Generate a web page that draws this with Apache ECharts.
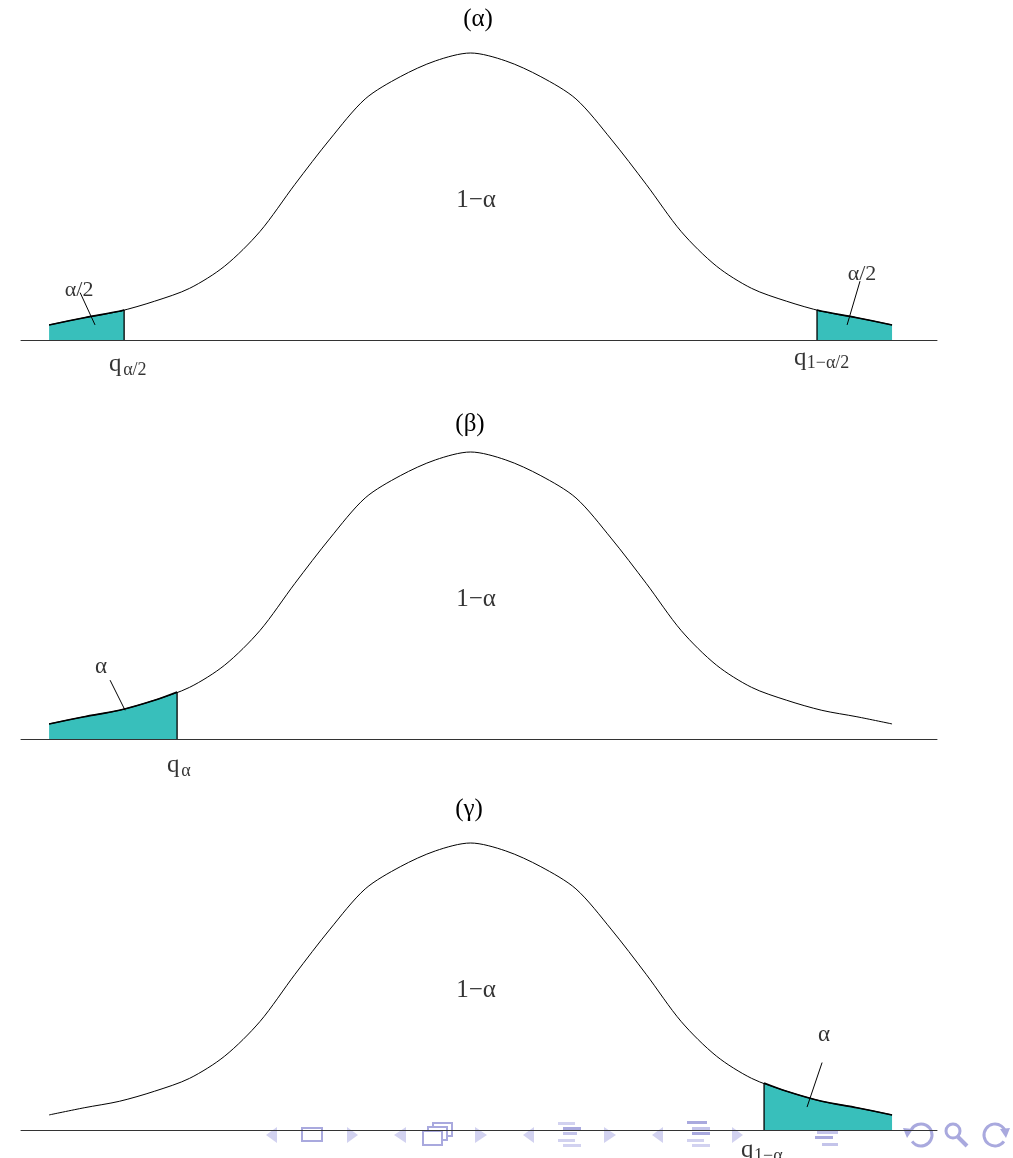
<!DOCTYPE html>
<html>
<head>
<meta charset="utf-8">
<script src="https://cdn.jsdelivr.net/npm/echarts@6/dist/echarts.min.js"></script>
<style>
html, body {margin: 0; padding: 0; background: #fff;}
#main {width: 1013px; height: 1158px;}
</style>
</head>
<body>
<div id="main"></div>
<script>
// density curve (same shape in all three panels)
var curve_x = [-3, -2.75, -2.5, -2.25, -2, -1.75, -1.5, -1.25, -1, -0.75, -0.5, -0.25, 0,
	0.25, 0.5, 0.75, 1, 1.25, 1.5, 1.75, 2, 2.25, 2.5, 2.75, 3];
var curve_y = [0.021, 0.031, 0.040, 0.054, 0.072, 0.103, 0.151, 0.217, 0.280, 0.336, 0.367, 0.389, 0.400,
	0.389, 0.367, 0.336, 0.280, 0.217, 0.151, 0.103, 0.072, 0.054, 0.040, 0.031, 0.021];

var panel_titles = ['(α)', '(β)', '(γ)'];
var panel_tops = [53, 452, 843];

// shaded tails [from, to] per panel
var tails_a = [[-3, -2.466], [2.466, 3]];
var tails_b = [[-3, -2.089]];
var tails_g = [[2.089, 3]];

// text labels: [x, y, text, size, align]
var labels_a = [
	[0.039, 0.195, '1−α', 25, 'center'],
	[-2.786, 0.070, 'α/2', 22, 'center'],
	[2.786, 0.092, 'α/2', 22, 'center'],
	[-2.573, -0.034, 'q', 25, 'left'],
	[-2.473, -0.042, 'α/2', 18, 'left'],
	[2.303, -0.025, 'q', 25, 'left'],
	[2.393, -0.033, '1−α/2', 18, 'left']
];
var labels_b = [
	[0.039, 0.194, '1−α', 25, 'center'],
	[-2.630, 0.101, 'α', 23, 'center'],
	[-2.160, -0.037, 'q', 25, 'left'],
	[-2.060, -0.045, 'α', 18, 'left']
];
var labels_g = [
	[0.039, 0.194, '1−α', 25, 'center'],
	[2.516, 0.133, 'α', 23, 'center'],
	[1.925, -0.029, 'q', 25, 'left'],
	[2.018, -0.037, '1−α', 18, 'left']
];

// leader lines from label to shaded area
var leaders_a = [[[-2.779, 0.066], [-2.673, 0.021]], [[2.772, 0.082], [2.680, 0.021]]];
var leaders_b = [[[-2.566, 0.082], [-2.459, 0.040]]];
var leaders_g = [[[2.502, 0.094], [2.395, 0.032]]];

var serif = 'Liberation Serif, Times New Roman, serif';
var teal = '#38bfbb';
var smooth_k = 0.3;

function dens(x) {
	for (var i = 0; i < curve_x.length - 1; i++) {
		if (x >= curve_x[i] && x <= curve_x[i + 1]) {
			var t = (x - curve_x[i]) / (curve_x[i + 1] - curve_x[i]);
			return curve_y[i] + t * (curve_y[i + 1] - curve_y[i]);
		}
	}
	return 0;
}

function tail_points(a, b) {
	var pts = [[a, dens(a)]];
	for (var i = 0; i < curve_x.length; i++) {
		if (curve_x[i] > a && curve_x[i] < b) pts.push([curve_x[i], curve_y[i]]);
	}
	pts.push([b, dens(b)]);
	return pts;
}

var curve = [];
for (var i = 0; i < curve_x.length; i++) curve.push([curve_x[i], curve_y[i]]);

var grids = [], xaxes = [], yaxes = [], series = [], titles = [];
var all_tails = [tails_a, tails_b, tails_g];
var all_labels = [labels_a, labels_b, labels_g];
var all_leaders = [leaders_a, leaders_b, leaders_g];

for (var p = 0; p < 3; p++) {
	grids.push({left: 21, width: 916, top: panel_tops[p], height: 287});
	xaxes.push({
		gridIndex: p, type: 'value', min: -3.2, max: 3.32,
		axisLine: {show: true, onZero: false, lineStyle: {color: '#333', width: 1}},
		axisTick: {show: false}, axisLabel: {show: false}, splitLine: {show: false}
	});
	yaxes.push({gridIndex: p, type: 'value', min: 0, max: 0.4, show: false});

	var tails = all_tails[p];
	for (var k = 0; k < tails.length; k++) {
		var a = tails[k][0], b = tails[k][1];
		series.push({
			type: 'line', xAxisIndex: p, yAxisIndex: p, data: tail_points(a, b),
			symbol: 'none', clip: false, z: 1, smooth: smooth_k,
			lineStyle: {color: '#000', width: 1.6},
			areaStyle: {color: teal, opacity: 1}
		});
		// inner edge of the tail (the quantile)
		var q = (a <= -2.99) ? b : a;
		series.push({
			type: 'line', xAxisIndex: p, yAxisIndex: p, data: [[q, 0], [q, dens(q)]],
			symbol: 'none', clip: false, z: 3,
			lineStyle: {color: '#000', width: 1.3}
		});
	}

	series.push({
		type: 'line', xAxisIndex: p, yAxisIndex: p, data: curve,
		symbol: 'none', clip: false, z: 2, smooth: smooth_k,
		lineStyle: {color: '#000', width: 1}
	});

	var leaders = all_leaders[p];
	for (var k = 0; k < leaders.length; k++) {
		series.push({
			type: 'line', xAxisIndex: p, yAxisIndex: p, data: leaders[k],
			symbol: 'none', clip: false, z: 4,
			lineStyle: {color: '#000', width: 1}
		});
	}

	var lab = all_labels[p];
	var items = [];
	for (var k = 0; k < lab.length; k++) {
		items.push({
			value: [lab[k][0], lab[k][1]],
			label: {
				show: true, position: 'inside', formatter: lab[k][2],
				fontSize: lab[k][3], align: lab[k][4], verticalAlign: 'middle',
				fontFamily: serif, color: '#000'
			}
		});
	}
	series.push({
		type: 'scatter', xAxisIndex: p, yAxisIndex: p, data: items,
		symbolSize: 1, clip: false, z: 5, itemStyle: {color: 'rgba(0,0,0,0)'}
	});
}

titles = [
	{text: panel_titles[0], left: 473, top: 2, textAlign: 'center'},
	{text: panel_titles[1], left: 465, top: 407, textAlign: 'center'},
	{text: panel_titles[2], left: 464, top: 792, textAlign: 'center'}
];
for (var t = 0; t < titles.length; t++) {
	titles[t].textStyle = {fontFamily: serif, fontSize: 25, fontWeight: 'normal', color: '#000'};
}

// beamer navigation symbols along the bottom
var nav_light = '#d2d2f0', nav_dark = '#a9a9de', nav_mid = '#c4c4ea';
function tri(x0, x1, left) {
	var tip = left ? x0 : x1, base = left ? x1 : x0;
	return {type: 'polygon', shape: {points: [[base, 1127], [tip, 1135], [base, 1143]]}, style: {fill: nav_light}};
}
function bar(x, y, w, c) {
	return {type: 'rect', shape: {x: x, y: y, width: w, height: 3}, style: {fill: c}};
}
var graphics = [
	tri(266, 277, true), tri(347, 358, false),
	{type: 'rect', shape: {x: 302, y: 1128, width: 20, height: 13}, style: {fill: 'none', stroke: nav_dark, lineWidth: 2}},
	tri(394, 406, true), tri(475, 487, false),
	{type: 'rect', shape: {x: 433, y: 1123, width: 19, height: 13}, style: {fill: '#fff', stroke: nav_dark, lineWidth: 2}},
	{type: 'rect', shape: {x: 428, y: 1127, width: 19, height: 13}, style: {fill: '#fff', stroke: nav_dark, lineWidth: 2}},
	{type: 'rect', shape: {x: 423, y: 1131, width: 19, height: 14}, style: {fill: '#fff', stroke: nav_dark, lineWidth: 2}},
	tri(523, 534, true), tri(604, 616, false),
	bar(558, 1122, 17, nav_light), bar(563, 1127, 18, nav_dark), bar(563, 1132, 14, nav_mid),
	bar(558, 1139, 17, nav_light), bar(563, 1144, 18, nav_light),
	tri(652, 663, true), tri(732, 743, false),
	bar(687, 1121, 20, nav_dark), bar(692, 1127, 18, nav_mid), bar(692, 1132, 18, nav_dark),
	bar(687, 1139, 17, nav_light), bar(692, 1144, 18, nav_light),
	bar(817, 1131, 21, nav_mid), bar(815, 1136, 18, nav_dark), bar(822, 1143, 16, nav_mid),
	{type: 'arc', shape: {cx: 921, cy: 1135, r: 11, startAngle: Math.PI * 1.15, endAngle: Math.PI * 2.8}, style: {fill: 'none', stroke: nav_dark, lineWidth: 3}},
	{type: 'polygon', shape: {points: [[903, 1128], [913, 1129], [907, 1138]]}, style: {fill: nav_dark}},
	{type: 'circle', shape: {cx: 953, cy: 1131, r: 7}, style: {fill: 'none', stroke: nav_dark, lineWidth: 3}},
	{type: 'line', shape: {x1: 958, y1: 1137, x2: 967, y2: 1146}, style: {stroke: nav_dark, lineWidth: 4}},
	{type: 'arc', shape: {cx: 995, cy: 1135, r: 11, startAngle: Math.PI * 0.2, endAngle: Math.PI * 1.85}, style: {fill: 'none', stroke: nav_dark, lineWidth: 3}},
	{type: 'polygon', shape: {points: [[1010, 1128], [1000, 1129], [1006, 1138]]}, style: {fill: nav_dark}}
];

var myChart = echarts.init(document.getElementById('main'));
var option = {
	animation: false,
	backgroundColor: '#fff',
	title: titles,
	grid: grids,
	xAxis: xaxes,
	yAxis: yaxes,
	series: series,
	graphic: graphics
};
myChart.setOption(option);
</script>
</body>
</html>
